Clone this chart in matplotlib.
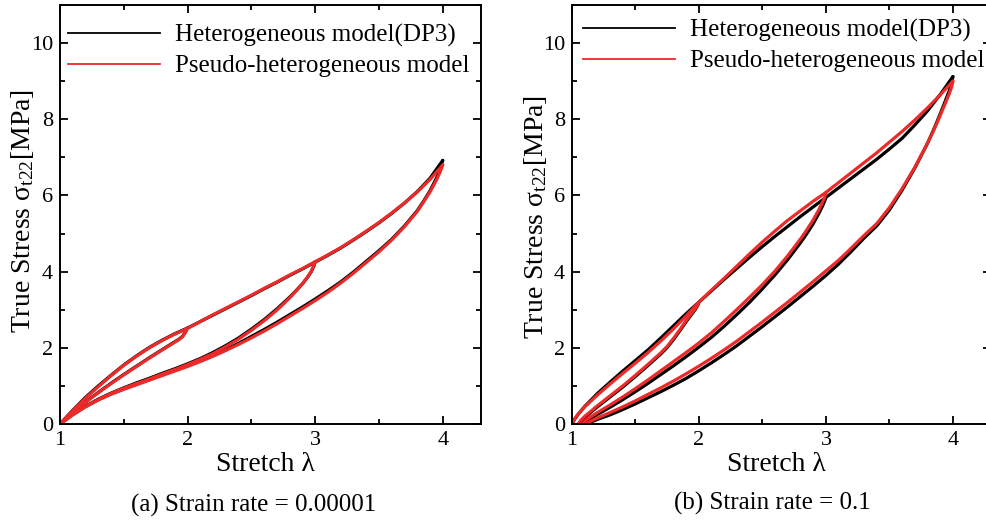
import matplotlib
matplotlib.use("Agg")
import matplotlib.pyplot as plt
from matplotlib.lines import Line2D
from matplotlib.ticker import MultipleLocator

plt.rcParams['font.family'] = ['Liberation Serif', 'DejaVu Serif']
plt.rcParams['mathtext.fontset'] = 'custom'
plt.rcParams['mathtext.rm'] = 'Liberation Serif'
plt.rcParams['mathtext.it'] = 'Liberation Serif:italic'

BLACK = '#000000'
RED = '#ec2a2a'

# ---- (a) strain rate 1e-5 ----
# virgin loading envelope
a_env_lam = [1.0, 1.1, 1.2, 1.3, 1.4, 1.5, 1.6, 1.7, 1.8, 1.9, 2.0, 2.1, 2.2, 2.3, 2.4, 2.5,
             2.6, 2.7, 2.8, 2.9, 3.0, 3.1, 3.2, 3.3, 3.4, 3.5, 3.6, 3.7, 3.8, 3.9, 4.0]
a_env_het = [0, 0.36, 0.70, 1.00, 1.28, 1.55, 1.79, 2.01, 2.20, 2.37, 2.52, 2.69, 2.86, 3.03, 3.20, 3.37,
             3.55, 3.72, 3.90, 4.07, 4.25, 4.43, 4.62, 4.83, 5.05, 5.28, 5.53, 5.80, 6.10, 6.45, 6.92]
a_env_pse = [0, 0.35, 0.68, 0.98, 1.27, 1.54, 1.78, 2.00, 2.19, 2.36, 2.51, 2.69, 2.87, 3.04, 3.21, 3.38,
             3.56, 3.73, 3.91, 4.08, 4.26, 4.44, 4.63, 4.84, 5.06, 5.29, 5.54, 5.80, 6.09, 6.42, 6.80]
# unloading from lambda = 2
a_u2_lam = [2.0, 1.98, 1.96, 1.93, 1.9, 1.8, 1.7, 1.6, 1.5, 1.4, 1.3, 1.2, 1.1, 1.0]
a_u2_het = [2.52, 2.40, 2.30, 2.22, 2.16, 1.95, 1.74, 1.52, 1.30, 1.07, 0.83, 0.58, 0.31, 0]
a_u2_pse = [2.51, 2.39, 2.29, 2.21, 2.15, 1.94, 1.73, 1.51, 1.29, 1.06, 0.82, 0.57, 0.30, 0]
# unloading from lambda = 3
a_u3_lam = [3.0, 2.99, 2.97, 2.94, 2.9, 2.85, 2.8, 2.7, 2.6, 2.5, 2.4, 2.3, 2.2, 2.1, 2.0,
            1.9, 1.8, 1.7, 1.6, 1.5, 1.4, 1.3, 1.2, 1.1, 1.0]
a_u3_het = [4.25, 4.15, 4.00, 3.85, 3.68, 3.50, 3.33, 3.02, 2.74, 2.49, 2.26, 2.06, 1.88, 1.72, 1.58,
            1.45, 1.33, 1.20, 1.08, 0.95, 0.81, 0.65, 0.47, 0.26, 0]
a_u3_pse = [4.26, 4.16, 4.01, 3.86, 3.68, 3.49, 3.31, 2.99, 2.71, 2.46, 2.23, 2.03, 1.85, 1.70, 1.56,
            1.43, 1.31, 1.18, 1.06, 0.94, 0.80, 0.64, 0.46, 0.25, 0]
# unloading from lambda = 4
a_u4_lam = [4.0, 3.98, 3.95, 3.9, 3.85, 3.8, 3.7, 3.6, 3.5, 3.4, 3.3, 3.2, 3.1, 3.0, 2.9, 2.8, 2.7,
            2.6, 2.5, 2.4, 2.3, 2.2, 2.1, 2.0, 1.9, 1.8, 1.7, 1.6, 1.5, 1.4, 1.3, 1.2, 1.1, 1.0]
a_u4_het = [6.92, 6.70, 6.45, 6.12, 5.85, 5.60, 5.20, 4.85, 4.55, 4.27, 3.99, 3.73, 3.50, 3.28, 3.07, 2.87, 2.67,
            2.48, 2.30, 2.12, 1.95, 1.80, 1.66, 1.53, 1.41, 1.29, 1.17, 1.05, 0.92, 0.79, 0.64, 0.46, 0.25, 0]
a_u4_pse = [6.80, 6.62, 6.40, 6.09, 5.83, 5.58, 5.18, 4.83, 4.52, 4.24, 3.96, 3.70, 3.46, 3.24, 3.03, 2.83, 2.63,
            2.44, 2.26, 2.09, 1.93, 1.78, 1.64, 1.51, 1.39, 1.27, 1.15, 1.03, 0.91, 0.78, 0.63, 0.45, 0.24, 0]

# ---- (b) strain rate 0.1 ----
b_env_lam = [1.0, 1.02, 1.05, 1.1, 1.2, 1.3, 1.4, 1.5, 1.6, 1.7, 1.8, 1.9, 2.0, 2.1, 2.2, 2.3, 2.4,
             2.5, 2.6, 2.7, 2.8, 2.9, 3.0, 3.1, 3.2, 3.3, 3.4, 3.5, 3.6, 3.7, 3.8, 3.9, 4.0]
b_env_het = [0, 0.12, 0.26, 0.46, 0.80, 1.10, 1.39, 1.67, 1.95, 2.26, 2.58, 2.90, 3.20, 3.50, 3.80, 4.09, 4.38,
             4.66, 4.93, 5.19, 5.45, 5.70, 5.95, 6.20, 6.45, 6.70, 6.95, 7.22, 7.50, 7.85, 8.22, 8.65, 9.12]
b_env_pse = [0, 0.13, 0.27, 0.45, 0.76, 1.05, 1.33, 1.60, 1.88, 2.18, 2.50, 2.84, 3.20, 3.52, 3.83, 4.15, 4.47,
             4.78, 5.07, 5.35, 5.60, 5.85, 6.08, 6.34, 6.60, 6.86, 7.12, 7.40, 7.68, 7.98, 8.30, 8.64, 9.00]
b_u2_lam = [2.0, 1.99, 1.97, 1.94, 1.9, 1.85, 1.8, 1.75, 1.7, 1.6, 1.5, 1.4, 1.3, 1.2, 1.15, 1.1, 1.07, 1.05]
b_u2_het = [3.20, 3.11, 3.00, 2.87, 2.69, 2.45, 2.22, 2.01, 1.84, 1.54, 1.25, 0.97, 0.71, 0.45, 0.31, 0.17, 0.07, 0]
b_u2_pse = [3.20, 3.12, 3.02, 2.90, 2.72, 2.48, 2.25, 2.04, 1.87, 1.57, 1.28, 1.00, 0.74, 0.48, 0.34, 0.20, 0.10, 0]
b_u3_lam = [3.0, 2.99, 2.97, 2.94, 2.9, 2.85, 2.8, 2.7, 2.6, 2.5, 2.4, 2.3, 2.2, 2.1, 2.0,
            1.9, 1.8, 1.7, 1.6, 1.5, 1.4, 1.3, 1.2, 1.12, 1.08]
b_u3_het = [5.95, 5.85, 5.70, 5.50, 5.26, 5.00, 4.76, 4.32, 3.92, 3.55, 3.20, 2.88, 2.57, 2.28, 2.02,
            1.77, 1.53, 1.30, 1.07, 0.85, 0.64, 0.44, 0.25, 0.10, 0]
b_u3_pse = [6.08, 5.95, 5.80, 5.60, 5.36, 5.10, 4.86, 4.42, 4.02, 3.66, 3.33, 3.01, 2.70, 2.40, 2.13,
            1.88, 1.64, 1.40, 1.16, 0.93, 0.71, 0.50, 0.30, 0.13, 0]
b_u4_lam = [4.0, 3.99, 3.97, 3.94, 3.9, 3.85, 3.8, 3.7, 3.6, 3.5, 3.4, 3.3, 3.2, 3.1, 3.0, 2.9, 2.8, 2.7,
            2.6, 2.5, 2.4, 2.3, 2.2, 2.1, 2.0, 1.9, 1.8, 1.7, 1.6, 1.5, 1.4, 1.3, 1.2, 1.14, 1.11]
b_u4_het = [9.12, 8.95, 8.74, 8.48, 8.14, 7.74, 7.37, 6.72, 6.14, 5.62, 5.20, 4.88, 4.53, 4.20, 3.90, 3.62, 3.35, 3.08,
            2.82, 2.56, 2.31, 2.06, 1.83, 1.61, 1.40, 1.20, 1.02, 0.85, 0.69, 0.53, 0.38, 0.24, 0.12, 0.04, 0]
b_u4_pse = [9.00, 8.85, 8.66, 8.42, 8.10, 7.72, 7.37, 6.74, 6.18, 5.68, 5.26, 4.95, 4.62, 4.30, 4.02, 3.74, 3.47, 3.20,
            2.94, 2.68, 2.43, 2.18, 1.95, 1.73, 1.52, 1.32, 1.13, 0.95, 0.78, 0.61, 0.45, 0.30, 0.16, 0.06, 0]

panel_a = [(a_env_lam, a_env_het, a_env_pse), (a_u2_lam, a_u2_het, a_u2_pse),
           (a_u3_lam, a_u3_het, a_u3_pse), (a_u4_lam, a_u4_het, a_u4_pse)]
panel_b = [(b_env_lam, b_env_het, b_env_pse), (b_u2_lam, b_u2_het, b_u2_pse),
           (b_u3_lam, b_u3_het, b_u3_pse), (b_u4_lam, b_u4_het, b_u4_pse)]

legend_labels = ['Heterogeneous model(DP3)', 'Pseudo-heterogeneous model']
captions = ['(a) Strain rate = 0.00001', '(b) Strain rate = 0.1']

W, H = 987, 528
fig = plt.figure(figsize=(W / 100, H / 100), dpi=100)


def px_axes(x0, x1, ytop, ybot):
    return fig.add_axes([x0 / W, 1 - ybot / H, (x1 - x0) / W, (ybot - ytop) / H])


ax_a = px_axes(60, 481, 5, 424)
ax_b = px_axes(572, 991, 5, 424)

for ax, segs, ylab_y, leg_xy in [(ax_a, panel_a, 211, (8, 19)), (ax_b, panel_b, 217, (11, 14))]:
    for lam, het, pse in segs:
        ax.plot(lam, het, color=BLACK, lw=2.3, solid_capstyle='round', solid_joinstyle='round')
    for lam, het, pse in segs:
        ax.plot(lam, pse, color=RED, lw=2.3, solid_capstyle='round', solid_joinstyle='round')

    ax.set_xlim(1, 4.3)
    ax.set_ylim(0, 11)
    ax.xaxis.set_major_locator(MultipleLocator(1))
    ax.xaxis.set_minor_locator(MultipleLocator(0.5))
    ax.yaxis.set_major_locator(MultipleLocator(2))
    ax.yaxis.set_minor_locator(MultipleLocator(1))
    ax.tick_params(which='both', direction='in', top=True, right=True, width=1.3)
    ax.tick_params(which='major', length=6, labelsize=16, pad=5)
    ax.tick_params(which='minor', length=3.5)
    for sp in ax.spines.values():
        sp.set_linewidth(1.4)

    ax.set_xlabel('Stretch λ', fontsize=20, va='center')
    ax.xaxis.set_label_coords(0.487, -0.096)
    ax.set_ylabel(r'True Stress σ$_{\mathrm{t22}}$[MPa]', fontsize=20, va='center')
    ax.yaxis.set_label_coords(-0.088, (424 - ylab_y) / 419)

    handles = [Line2D([], [], color=BLACK, lw=1.3), Line2D([], [], color=RED, lw=1.3)]
    lx, ly = leg_xy
    ax.legend(handles, legend_labels, loc='upper left', frameon=False, fontsize=18,
              handlelength=3.68, handletextpad=0.6, labelspacing=0.31,
              borderaxespad=0, borderpad=0,
              bbox_to_anchor=(lx / 419, 1 - ly / 419))

fig.text(254 / W, 1 - 505 / H, captions[0], fontsize=18, ha='center', va='center')
fig.text(772 / W, 1 - 503 / H, captions[1], fontsize=18, ha='center', va='center')

fig.savefig('out.png', dpi=100)
